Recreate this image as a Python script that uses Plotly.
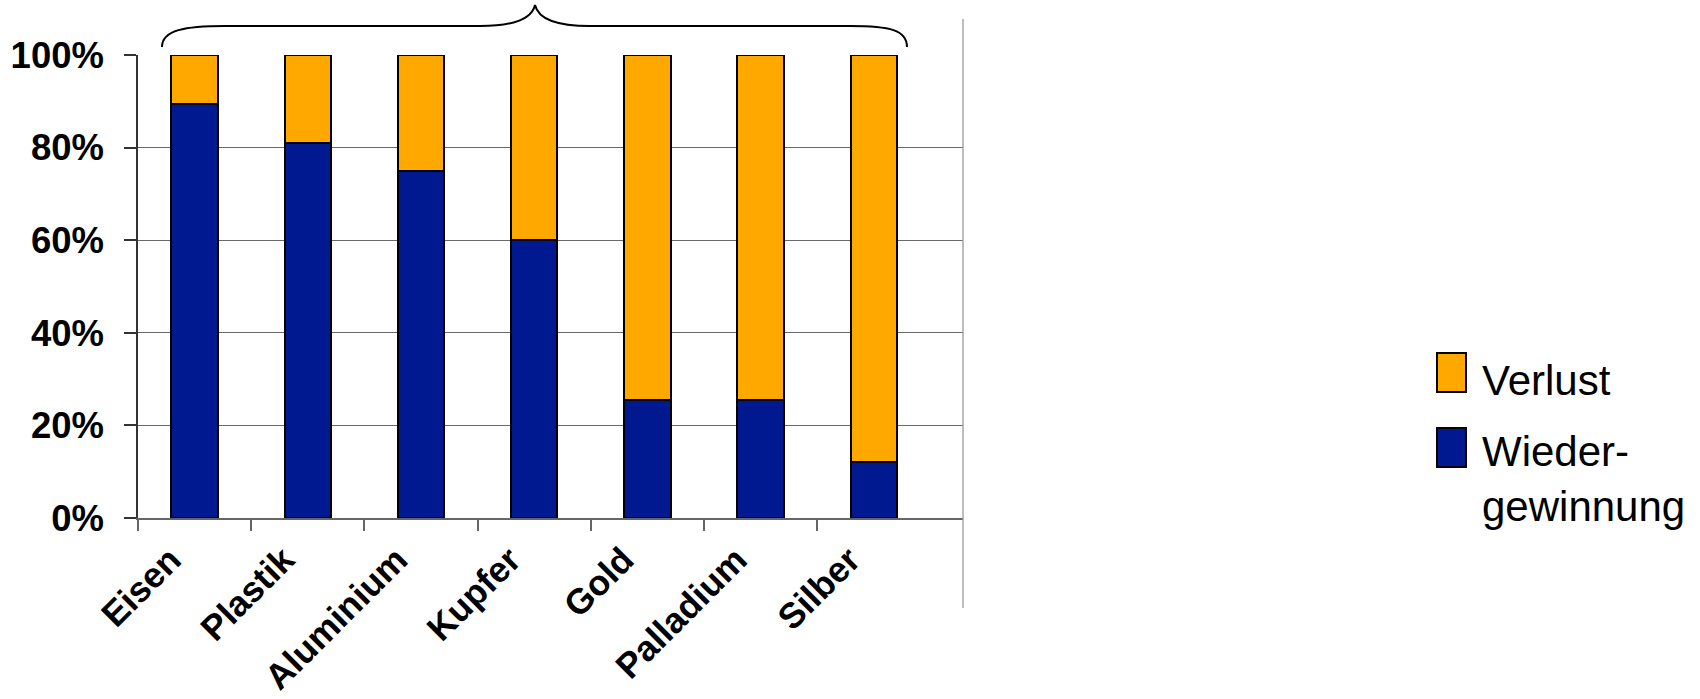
import plotly.graph_objects as go

# Recovery rates of materials (share recovered vs. lost, in percent)
materials = ["Eisen", "Plastik", "Aluminium", "Kupfer", "Gold", "Palladium", "Silber"]
wiedergewinnung = [89.5, 81, 75, 60, 25.5, 25.5, 12]
verlust = [10.5, 19, 25, 40, 74.5, 74.5, 88]
y_ticks = [0, 20, 40, 60, 80, 100]

series = [
    ("Wieder-<br>gewinnung", wiedergewinnung, "#001990"),
    ("Verlust", verlust, "#FFA800"),
]

W, H = 1700, 699
L, R, T, B = 138, 963, 55, 518          # plot area in pixels
X_MAX = (R - L) / 113.2 - 0.5           # axis runs a bit past the last category

FONT = "Liberation Sans, Arial, sans-serif"


def px(x, y):
    """Pixel position -> paper coordinates of the plot area."""
    return (x - L) / (R - L), (B - y) / (B - T)


fig = go.Figure()
for name, vals, color in series:
    fig.add_trace(go.Bar(
        x=materials, y=vals, name=name,
        marker=dict(color=color, line=dict(color="black", width=2)),
        width=0.41, showlegend=False, hoverinfo="x+y+name",
    ))

# Empty trace that carries the secondary axis used for the category-boundary ticks
fig.add_trace(go.Scatter(x=[], y=[], xaxis="x2", yaxis="y", showlegend=False,
                         hoverinfo="skip"))

# Curly brace spanning all the bars
pts = [(162, 47), (162, 30), (185, 26), (225, 26), (480, 26), (515, 26), (532, 18),
       (535, 5), (538, 18), (555, 26), (590, 26), (850, 26), (890, 26), (907, 30), (907, 47)]
p = [px(*q) for q in pts]
f = lambda q: f"{q[0]:.5f},{q[1]:.5f}"
brace = (f"M{f(p[0])} C{f(p[1])} {f(p[2])} {f(p[3])} L{f(p[4])} "
         f"C{f(p[5])} {f(p[6])} {f(p[7])} C{f(p[8])} {f(p[9])} {f(p[10])} "
         f"L{f(p[11])} C{f(p[12])} {f(p[13])} {f(p[14])}")
shapes = [dict(type="path", path=brace, xref="paper", yref="paper",
               line=dict(color="black", width=2))]

# Vertical separator line at the right edge of the chart
x0, y0 = px(R, 608)
_, y1 = px(R, 19)
shapes.append(dict(type="line", xref="paper", yref="paper", x0=x0, x1=x0, y0=y0, y1=y1,
                   line=dict(color="#9a9a9a", width=1.3)))

# Legend drawn as boxes and labels
annotations = []
legend_rows = [(series[1], 353, 392, 380), (series[0], 428, 467, 479)]
for (name, _, color), top, bot, ymid in legend_rows:
    ax0, ay0 = px(1437, bot)
    ax1, ay1 = px(1466, top)
    shapes.append(dict(type="rect", xref="paper", yref="paper", x0=ax0, x1=ax1, y0=ay0, y1=ay1,
                       fillcolor=color, line=dict(color="black", width=2)))
    tx, ty = px(1480, ymid)
    annotations.append(dict(text=name, xref="paper", yref="paper", x=tx, y=ty,
                            xanchor="left", yanchor="middle", align="left", showarrow=False,
                            font=dict(family=FONT, size=42, color="black")))

fig.update_layout(
    template="none",
    width=W, height=H,
    margin=dict(l=L, r=W - R, t=T, b=H - B, pad=0, autoexpand=False),
    paper_bgcolor="white", plot_bgcolor="white",
    barmode="stack", bargap=0.59,
    shapes=shapes, annotations=annotations,
    xaxis=dict(
        type="category", range=[-0.5, X_MAX], automargin=False,
        showline=True, linecolor="#666666", linewidth=1.5,
        ticks="", showgrid=False, tickangle=-45, zeroline=False,
        tickfont=dict(family=FONT, size=35.5, color="black", weight="bold"),
        ticklabelshift=-24, ticklabelstandoff=5,
    ),
    xaxis2=dict(
        overlaying="x", anchor="y", side="bottom", range=[-0.5, X_MAX], automargin=False,
        tickmode="array", tickvals=[i - 0.5 for i in range(len(materials))],
        ticks="outside", ticklen=12, tickwidth=1.5, tickcolor="#666666",
        showticklabels=False, showgrid=False, showline=False, zeroline=False,
    ),
    yaxis=dict(
        range=[0, 100], tickmode="array", tickvals=y_ticks, automargin=False,
        ticktext=[f"{v}%" for v in y_ticks],
        showline=True, linecolor="#333333", linewidth=1.5,
        ticks="outside", ticklen=12, tickwidth=1.5, tickcolor="#333333",
        showgrid=True, gridcolor="#6a6a6a", gridwidth=1.2, zeroline=False,
        tickfont=dict(family=FONT, size=36.5, color="black", weight="bold"),
        ticklabelstandoff=13,
    ),
)

fig.write_html("out.html")
